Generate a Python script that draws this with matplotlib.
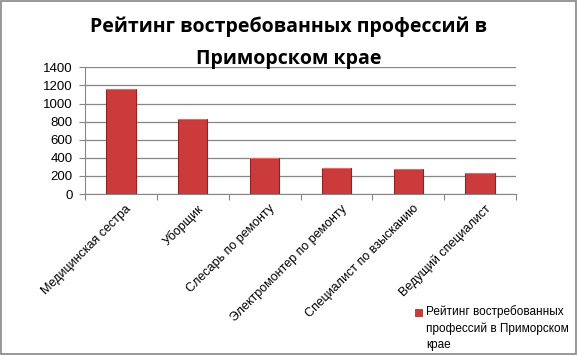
import matplotlib
matplotlib.use("Agg")
import matplotlib.pyplot as plt
from matplotlib.patches import Rectangle

categories = ["Медицинская сестра", "Уборщик", "Слесарь по ремонту",
              "Электромонтер по ремонту", "Специалист по взысканию",
              "Ведущий специалист"]
values = [1160, 825, 398, 284, 273, 229]
yticks = [0, 200, 400, 600, 800, 1000, 1200, 1400]
title_lines = ["Рейтинг востребованных профессий в", "Приморском крае"]
series_name = "Рейтинг востребованных\nпрофессий в Приморском\nкрае"

plt.rcParams['font.family'] = ['Liberation Sans', 'DejaVu Sans']

fig = plt.figure(figsize=(5.78, 3.55), dpi=100)
ax = fig.add_axes([85/578, 1-194/355, (516-85)/578, (194-67.3)/355])

x = list(range(len(categories)))
bars = ax.bar(x, values, width=0.41, color='#CC3B3B', edgecolor='#8E2424',
              linewidth=0.8, zorder=3)
# lighter top face for bevel look
for b in bars:
    ax.add_patch(Rectangle((b.get_x(), b.get_height() - 12), b.get_width(), 12,
                           facecolor='#E86A6A', edgecolor='none', zorder=4))

ax.set_xlim(-0.5, len(categories) - 0.5)
ax.set_ylim(0, 1400)
ax.set_yticks(yticks)
ax.set_yticklabels([str(t) for t in yticks], fontsize=9.5)
ax.yaxis.grid(True, color='#868686', linewidth=0.9, zorder=0)
ax.set_axisbelow(True)
for s in ['top', 'right']:
    ax.spines[s].set_visible(False)
ax.spines['left'].set_color('#868686')
ax.spines['bottom'].set_color('#868686')
ax.tick_params(axis='y', length=4, color='#868686', pad=5)
ax.set_xticks([i + 0.5 for i in range(-1, len(categories))], minor=False)
ax.set_xticklabels([])
ax.tick_params(axis='x', length=4, color='#868686', direction='out')
for i, c in enumerate(categories):
    ax.text(i + 0.06, -0.07, c, rotation=45, ha='right', va='top',
            rotation_mode='anchor', fontsize=9, color='#000000',
            transform=ax.get_xaxis_transform())

fig.text(0.5, 1 - 32/355, title_lines[0], ha='center', va='baseline',
         fontsize=14, fontweight='bold', family=['Open Sans', 'DejaVu Sans'])
fig.text(0.5, 1 - 64/355, title_lines[1], ha='center', va='baseline',
         fontsize=14, fontweight='bold', family=['Open Sans', 'DejaVu Sans'])

# legend
fig.patches.append(Rectangle((415/578, 1-316/355), 7/578, 7/355,
                             transform=fig.transFigure, facecolor='#CC3B3B',
                             edgecolor='#8E2424', linewidth=0.5))
fig.text(426/578, 1-305/355, series_name, ha='left', va='top', fontsize=8.5,
         linespacing=1.45, multialignment='left')

# outer frame
fig.patches.append(Rectangle((0.002, 0.003), 0.995, 0.993, transform=fig.transFigure,
                             facecolor='none', edgecolor='#868686', linewidth=1.2))

fig.savefig("out.png", dpi=100)
